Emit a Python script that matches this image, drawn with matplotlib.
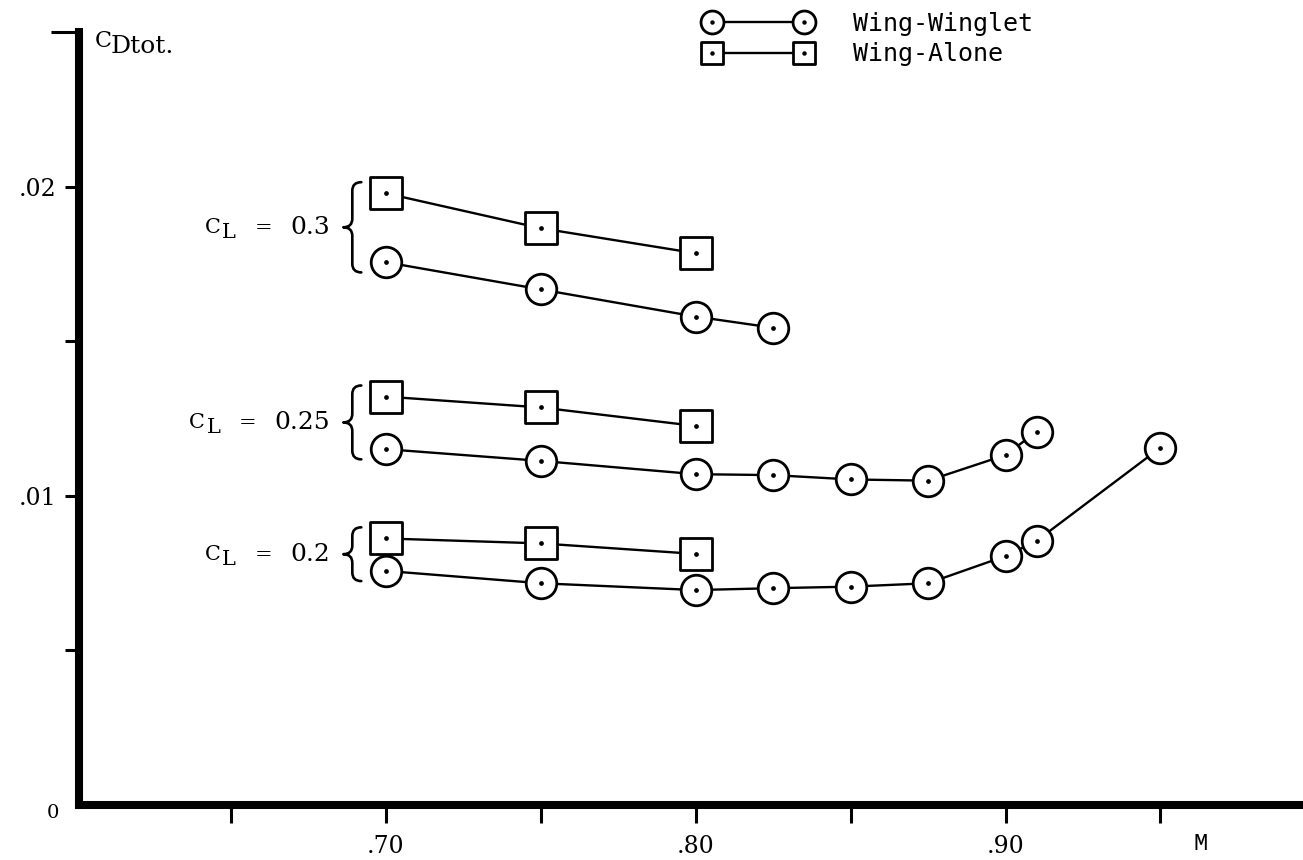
import matplotlib
matplotlib.use("Agg")
import matplotlib.pyplot as plt
from matplotlib.lines import Line2D
from matplotlib.markers import MarkerStyle
from matplotlib.path import Path
from matplotlib.patches import PathPatch
from matplotlib.legend_handler import HandlerTuple

# ---- data: total drag coefficient vs Mach number ----
mach_alone = [0.70, 0.75, 0.80]

mach_winglet_03 = [0.70, 0.75, 0.80, 0.825]
mach_winglet_025 = [0.70, 0.75, 0.80, 0.825, 0.85, 0.875, 0.90, 0.91]
mach_winglet_02 = [0.70, 0.75, 0.80, 0.825, 0.85, 0.875, 0.90, 0.91, 0.95]

cd_alone_03 = [0.01978, 0.01865, 0.01784]
cd_winglet_03 = [0.01755, 0.01667, 0.01579, 0.01543]

cd_alone_025 = [0.01320, 0.01285, 0.01225]
cd_winglet_025 = [0.01150, 0.01112, 0.01069, 0.01066, 0.01052, 0.01048,
                  0.01131, 0.01206]

cd_alone_02 = [0.00861, 0.00845, 0.00811]
cd_winglet_02 = [0.00756, 0.00716, 0.00694, 0.00700, 0.00705, 0.00716,
                 0.00804, 0.00853, 0.01155]

cl_values = ["0.3", "0.25", "0.2"]

x_ticks = [0.65, 0.70, 0.75, 0.80, 0.85, 0.90, 0.95]
x_tick_labels = ["", ".70", "", ".80", "", ".90", ""]
y_ticks = [0.005, 0.010, 0.015, 0.020]
y_tick_labels = ["", ".01", "", ".02"]

series_names = ["Wing-Winglet", "Wing-Alone"]

# ---- figure ----
W, H, DPI = 1303, 860, 100
SERIF = "DejaVu Serif"
plt.rcParams["mathtext.fontset"] = "dejavuserif"

fig = plt.figure(figsize=(W / DPI, H / DPI), dpi=DPI)
ax = fig.add_axes([79 / W, 1 - 804.5 / H, 1 - 79 / W, (804.5 - 32) / H])
ax.set_xlim(0.601, 0.996)
ax.set_ylim(0.0, 0.025)
ax.patch.set_alpha(0)

for side in ("top", "right"):
    ax.spines[side].set_visible(False)
for side in ("left", "bottom"):
    ax.spines[side].set_linewidth(5.8)
    ax.spines[side].set_capstyle("projecting")

ax.set_xticks(x_ticks)
ax.set_xticklabels(x_tick_labels, fontfamily=SERIF)
ax.set_yticks(y_ticks)
ax.set_yticklabels(y_tick_labels, fontfamily=SERIF)
ax.set_yticks([0.025], minor=True)
ax.tick_params(axis="x", direction="out", length=13, width=2.2, pad=9,
               labelsize=17)
ax.tick_params(axis="y", direction="out", length=10, width=2.2, pad=6,
               labelsize=17)
ax.tick_params(axis="y", which="minor", direction="out", length=20, width=2.2)

# origin label and Mach-number label
ax.annotate("0", xy=(0, 0), xycoords="axes fraction", xytext=(-19, -6),
            textcoords="offset points", ha="center", va="center",
            fontsize=14, fontfamily=SERIF)
ax.annotate("M", xy=(0.963, 0), xycoords=("data", "axes fraction"),
            xytext=(0, -28), textcoords="offset points", ha="center",
            va="center", fontsize=17, fontfamily="Liberation Mono")

# axis title
fig.text(95 / W, 1 - 47 / H, "C", fontsize=16, fontfamily=SERIF,
         va="baseline")
fig.text(111 / W, 1 - 53 / H, "Dtot.", fontsize=18, fontfamily=SERIF,
         va="baseline")


def draw_series(x, y, marker, ms):
    mk = MarkerStyle(marker, joinstyle="round")
    ax.plot(x, y, color="black", lw=1.7, marker=mk, ms=ms, mfc="white",
            mec="black", mew=2.0, zorder=3, clip_on=False)
    ax.plot(x, y, ls="none", marker="o", ms=2.4, color="black", zorder=4,
            clip_on=False)


def draw_brace(x_right, y_bottom, y_top, width=0.0058, r=0.00028):
    xm = x_right - width / 2
    xl = x_right - width
    ymid = (y_bottom + y_top) / 2
    verts = [(x_right, y_top),
             (xm, y_top), (xm, y_top - r),
             (xm, ymid + r),
             (xm, ymid), (xl, ymid),
             (xm, ymid), (xm, ymid - r),
             (xm, y_bottom + r),
             (xm, y_bottom), (x_right, y_bottom)]
    codes = [Path.MOVETO,
             Path.CURVE3, Path.CURVE3,
             Path.LINETO,
             Path.CURVE3, Path.CURVE3,
             Path.CURVE3, Path.CURVE3,
             Path.LINETO,
             Path.CURVE3, Path.CURVE3]
    ax.add_patch(PathPatch(Path(verts, codes), fill=False, lw=1.9,
                           edgecolor="black", capstyle="round",
                           joinstyle="round", zorder=3))
    return xl, ymid


def cl_label(x, y, value):
    # "C_L = value": C with an L subscript, then the number
    num = ax.text(x, y, value, ha="right", va="center", fontsize=18,
                  fontfamily=SERIF)
    eq = ax.annotate("=", xy=(0, 0.5), xycoords=num, xytext=(-13, 0),
                     textcoords="offset points", ha="right", va="center",
                     fontsize=15, fontfamily=SERIF)
    sub = ax.annotate("L", xy=(0, 0.5), xycoords=eq, xytext=(-13, -4),
                      textcoords="offset points", ha="right", va="center",
                      fontsize=15, fontfamily=SERIF)
    ax.annotate("C", xy=(0, 0.5), xycoords=sub, xytext=(-1, 4),
                textcoords="offset points", ha="right", va="center",
                fontsize=15, fontfamily=SERIF)


groups = [
    (cl_values[0], mach_winglet_03, cd_winglet_03, cd_alone_03),
    (cl_values[1], mach_winglet_025, cd_winglet_025, cd_alone_025),
    (cl_values[2], mach_winglet_02, cd_winglet_02, cd_alone_02),
]

for cl, m_w, cd_w, cd_a in groups:
    draw_series(mach_alone, cd_a, "s", 22.5)
    draw_series(m_w, cd_w, "o", 22)
    m0 = m_w[0]
    xl, ymid = draw_brace(m0 - 0.0079, cd_w[0] - 0.00033, cd_a[0] + 0.00036)
    cl_label(m0 - 0.0181, ymid, cl)

# legend
circle_handle = (
    Line2D([], [], color="black", lw=1.7, marker="o", ms=16.5, mfc="white",
           mec="black", mew=2.0),
    Line2D([], [], ls="none", marker="o", ms=2.2, color="black"),
)
square_handle = (
    Line2D([], [], color="black", lw=1.7,
           marker=MarkerStyle("s", joinstyle="round"), ms=16, mfc="white",
           mec="black", mew=2.0),
    Line2D([], [], ls="none", marker="o", ms=2.2, color="black"),
)
fig.legend([circle_handle, square_handle], series_names,
           handler_map={tuple: HandlerTuple(ndivide=1, pad=0)},
           loc="upper left", bbox_to_anchor=(704.5 / W, 1 - 12 / H),
           bbox_transform=fig.transFigure, frameon=False, numpoints=2,
           handlelength=4.28, handletextpad=1.66, labelspacing=0.26,
           borderpad=0, borderaxespad=0,
           prop={"family": "DejaVu Sans Mono", "size": 18})

fig.savefig("out.png", dpi=DPI)
